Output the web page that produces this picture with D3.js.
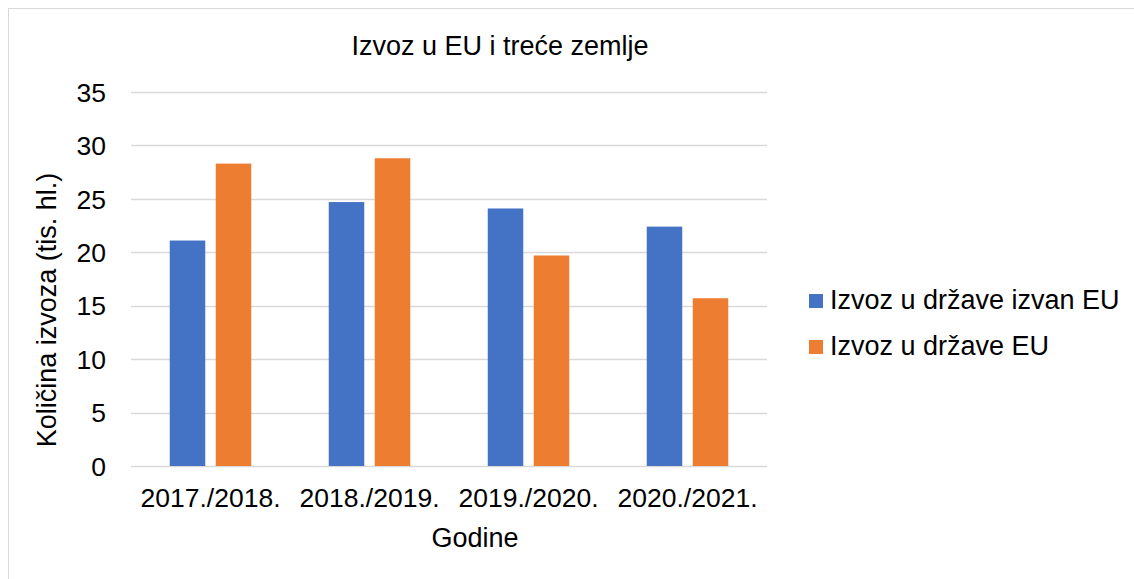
<!DOCTYPE html>
<html><head><meta charset="utf-8">
<script src="https://cdn.jsdelivr.net/npm/d3@7"></script>
<style>body{margin:0;background:#fff}svg{display:block;font-family:"Liberation Sans",Arial,sans-serif}</style>
</head><body><svg id="c" width="1134" height="579"></svg>
<script>
const categories = ["2017./2018.","2018./2019.","2019./2020.","2020./2021."];
const seriesNames = ["Izvoz u države izvan EU","Izvoz u države EU"];
const izvanEU = [21.1, 24.7, 24.1, 22.4];
const unutarEU = [28.3, 28.8, 19.7, 15.7];
const yTicks = [0,5,10,15,20,25,30,35];
const colors = ["#4472C4","#ED7D31"];

const svg = d3.select("#c");
svg.append("rect").attr("x",8.5).attr("y",8.5).attr("width",1140).attr("height",590)
  .attr("fill","#fff").attr("stroke","#D9D9D9").attr("stroke-width",1);

const L=131, R=767, T=92, B=466;
const x = d3.scaleBand().domain(categories).range([L,R]).paddingInner(0).paddingOuter(0);
const y = d3.scaleLinear().domain([0,35]).range([B,T]);

// gridlines
svg.append("g").selectAll("line").data(yTicks).join("line")
  .attr("x1",L).attr("x2",R).attr("y1",d=>Math.round(y(d))+0.5).attr("y2",d=>Math.round(y(d))+0.5)
  .attr("stroke","#D9D9D9").attr("stroke-width",1.5);

// y axis labels
const yAxis = d3.axisLeft(y).tickValues(yTicks).tickSize(0).tickPadding(0);
const ga = svg.append("g").attr("transform",`translate(106,0)`).call(yAxis);
ga.select(".domain").remove();
ga.selectAll("text").attr("font-size",26.5).attr("fill","#000").attr("dy","0.35em")
  .attr("font-family","Liberation Sans, Arial, sans-serif");

// x axis labels
const xAxis = d3.axisBottom(x).tickSize(0).tickPadding(0);
const gx = svg.append("g").attr("transform",`translate(0,${B})`).call(xAxis);
gx.select(".domain").remove();
gx.selectAll("text").attr("font-size",26.5).attr("fill","#000").attr("y",41).attr("dy",0)
  .attr("font-family","Liberation Sans, Arial, sans-serif");

// bars
const sub = d3.scaleBand().domain([0,1]).range([0,x.bandwidth()]).paddingInner(0.228).paddingOuter(0.842);
const data = [izvanEU, unutarEU];
data.forEach((vals,si)=>{
  svg.append("g").selectAll("rect").data(vals).join("rect")
    .attr("x",(d,i)=>x(categories[i])+sub(si))
    .attr("width",sub.bandwidth())
    .attr("y",d=>y(d)).attr("height",d=>y(0)-y(d))
    .attr("fill",colors[si]);
});

// title
svg.append("text").attr("x",500).attr("y",55).attr("text-anchor","middle")
  .attr("font-size",27).text("Izvoz u EU i treće zemlje");
// x axis title
svg.append("text").attr("x",475).attr("y",547).attr("text-anchor","middle")
  .attr("font-size",27).text("Godine");
// y axis title
svg.append("text").attr("transform",`translate(56,310) rotate(-90)`).attr("text-anchor","middle")
  .attr("font-size",27).text("Količina izvoza (tis. hl.)");

// legend
const lg = svg.append("g");
seriesNames.forEach((n,i)=>{
  lg.append("rect").attr("x",809).attr("y",294+i*46).attr("width",14).attr("height",14).attr("fill",colors[i]);
  lg.append("text").attr("x",830).attr("y",309+i*46).attr("font-size",27).text(n);
});
</script></body></html>
